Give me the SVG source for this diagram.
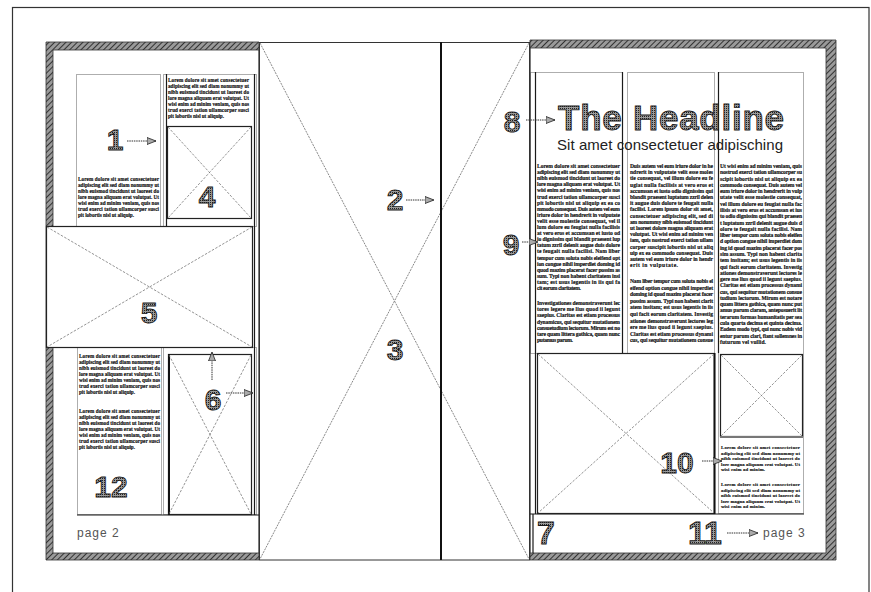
<svg xmlns="http://www.w3.org/2000/svg" width="871" height="592" viewBox="0 0 871 592">
<defs>
<style>
.bt{font-family:"Liberation Serif",serif;font-weight:bold;font-size:5.6px;fill:#111;stroke:#111;stroke-width:0.15}
.sm{font-family:"Liberation Serif",serif;font-weight:bold;font-size:5.2px;fill:#111;stroke:#111;stroke-width:0.15}
.xs{font-family:"Liberation Serif",serif;font-weight:bold;font-size:4.8px;fill:#111;stroke:#111;stroke-width:0.15}
.num{font-family:"Liberation Sans",Arial,sans-serif;font-weight:bold;font-size:30px;fill:url(#dots);stroke:#1a1a1a;stroke-width:0.9;text-anchor:middle}
.big{font-size:32px}
.dot{fill:none;stroke:#333;stroke-width:0.8;stroke-dasharray:1,1}
.sol{fill:none;stroke:#1a1a1a;stroke-width:1.2}
.img{fill:#fff;stroke:#222;stroke-width:1.2}
.x{stroke:#777;stroke-width:0.8;stroke-dasharray:2.5,1.5;fill:none}
.arr{stroke:#333;stroke-width:1;stroke-dasharray:1.5,0.8;marker-end:url(#ah);fill:none}
.pg{font-family:"Liberation Sans",Arial,sans-serif;font-size:12px;fill:#555;letter-spacing:1px}
.band{fill:url(#hatch);fill-rule:evenodd;stroke:#333;stroke-width:0.8}
</style>
<pattern id="hatch" width="4" height="4" patternUnits="userSpaceOnUse" patternTransform="rotate(45)">
<rect width="4" height="4" fill="#9a9a9a"/>
<line x1="0" y1="0" x2="0" y2="4" stroke="#333" stroke-width="2"/>
</pattern>
<pattern id="dots" width="2" height="2" patternUnits="userSpaceOnUse">
<rect width="2" height="2" fill="#9a9a9a"/>
<rect width="1" height="1" fill="#222"/>
</pattern>
<marker id="ah" markerUnits="userSpaceOnUse" markerWidth="10" markerHeight="8" refX="9" refY="4" orient="auto">
<path d="M0,0.5 L9,4 L0,7.5 Z" fill="#aaa" stroke="#222" stroke-width="0.8"/>
</marker>
<g id="b7">
<text x="0" y="0" textLength="81">Lorem dolore sit amet consectetuer</text>
<text x="0" y="6" textLength="81">adipiscing elit sed diam nonummy ut</text>
<text x="0" y="12" textLength="81">nibh euismod tincidunt ut laoreet do</text>
<text x="0" y="18" textLength="81">lore magna aliquam erat volutpat. Ut</text>
<text x="0" y="24" textLength="81">wisi enim ad minim veniam, quis nos</text>
<text x="0" y="30" textLength="81">trud exerci tation ullamcorper susci</text>
<text x="0" y="36" textLength="56">pit lobortis nisl ut aliquip.</text>
</g>
<g id="b5">
<text x="0" y="0" textLength="79">Lorem dolore sit amet consectetuer</text>
<text x="0" y="5.5" textLength="79">adipiscing elit sed diam nonummy ut</text>
<text x="0" y="11" textLength="79">nibh euismod tincidunt ut laoreet do</text>
<text x="0" y="16.5" textLength="79">lore magna aliquam erat volutpat. Ut</text>
<text x="0" y="22" textLength="44">wisi enim ad minim.</text>
</g>
</defs>

<g id="frame">
<rect x="12.5" y="7.5" width="856.5" height="640" fill="none" stroke="#333" stroke-width="1.2"/>
</g>

<g id="page2">
<rect x="46" y="42" width="213" height="518" fill="#fff"/>
<path class="band" d="M46,42 H259 V560 H46 Z M53,50 H259 V553 H53 Z"/>
<rect class="dot" x="76.5" y="74.5" width="84" height="152"/>
<rect class="dot" x="163.5" y="74.5" width="93" height="152"/>
<line class="sol" x1="166.5" y1="74" x2="166.5" y2="226"/>
<rect class="dot" x="77.5" y="347.5" width="84" height="167"/>
<rect class="dot" x="163.5" y="347.5" width="93" height="167"/>
<line class="sol" x1="254.5" y1="74" x2="254.5" y2="515" stroke-width="1.5"/>
<line class="sol" x1="77" y1="515" x2="259" y2="515"/>
<g class="sm">
<use href="#b7" x="78" y="181"/>
<use href="#b7" x="168" y="82"/>
<use href="#b7" x="79" y="358"/>
<use href="#b7" x="79" y="413"/>
</g>
<text class="pg" x="77" y="537">page 2</text>
</g>

<g id="image4">
<rect class="img" x="167.5" y="126.5" width="84" height="92"/>
<path class="x" d="M168,127 L251,218 M251,127 L168,218"/>
</g>

<g id="image5">
<rect class="img" x="46.5" y="226.5" width="206" height="121"/>
<path class="x" d="M47,227 L252,347 M252,227 L47,347"/>
</g>

<g id="image6">
<rect class="img" x="168.5" y="354.5" width="83" height="160"/>
<line x1="169" y1="354" x2="169" y2="515" stroke="#111" stroke-width="2"/>
<path class="x" d="M169,355 L251,514 M251,355 L169,514"/>
</g>

<g id="spread-image">
<rect x="259.5" y="42.5" width="270" height="517.5" fill="#fff" stroke="#333" stroke-width="1"/>
<path d="M260,43 L529,559 M529,43 L260,559" stroke="#888" stroke-width="1" stroke-dasharray="2,1" fill="none"/>
<line x1="441" y1="42" x2="441" y2="560" stroke="#111" stroke-width="2"/>
</g>

<g id="page3">
<rect x="530" y="40" width="306" height="520" fill="#fff"/>
<path class="band" d="M530,40 H836 V560 H530 Z M530,48 V553 H826 V48 Z"/>
<line class="sol" x1="533" y1="514" x2="533" y2="553"/>
<g class="bt">
<text x="537" y="168" textLength="83">Lorem dolore sit amet consectetuer</text>
<text x="537" y="174.1" textLength="83">adipiscing elit sed diam nonummy ut</text>
<text x="537" y="180.2" textLength="83">nibh euismod tincidunt ut laoreet do</text>
<text x="537" y="186.3" textLength="83">lore magna aliquam erat volutpat. Ut</text>
<text x="537" y="192.4" textLength="83">wisi enim ad minim veniam, quis nos</text>
<text x="537" y="198.5" textLength="83">trud exerci tation ullamcorper susci</text>
<text x="537" y="204.6" textLength="83">pit lobortis nisl ut aliquip ex ea co</text>
<text x="537" y="210.7" textLength="83">mmodo consequat. Duis autem vel eum</text>
<text x="537" y="216.8" textLength="83">iriure dolor in hendrerit in vulputate</text>
<text x="537" y="222.9" textLength="83">velit esse molestie consequat, vel il</text>
<text x="537" y="229" textLength="83">lum dolore eu feugiat nulla facilisis</text>
<text x="537" y="235.1" textLength="83">at vero eros et accumsan et iusto od</text>
<text x="537" y="241.2" textLength="83">io dignissim qui blandit praesent lup</text>
<text x="537" y="247.3" textLength="83">tatum zzril delenit augue duis dolore</text>
<text x="537" y="253.4" textLength="83">te feugait nulla facilisi. Nam liber</text>
<text x="537" y="259.5" textLength="83">tempor cum soluta nobis eleifend opt</text>
<text x="537" y="265.6" textLength="83">ion congue nihil imperdiet doming id</text>
<text x="537" y="271.7" textLength="83">quod mazim placerat facer possim as</text>
<text x="537" y="277.8" textLength="83">sum. Typi non habent claritatem insi</text>
<text x="537" y="283.9" textLength="83">tam; est usus legentis in iis qui fa</text>
<text x="537" y="290" textLength="44">cit eorum claritatem.</text>
<text x="537" y="305" textLength="83">Investigationes demonstraverunt lec</text>
<text x="537" y="311.2" textLength="83">tores legere me lius quod ii legunt</text>
<text x="537" y="317.4" textLength="83">saepius. Claritas est etiam processus</text>
<text x="537" y="323.6" textLength="83">dynamicus, qui sequitur mutationem</text>
<text x="537" y="329.8" textLength="83">consuetudium lectorum. Mirum est no</text>
<text x="537" y="336" textLength="83">tare quam littera gothica, quam nunc</text>
<text x="537" y="342.2" textLength="36">putamus parum.</text>

<text x="630" y="168" textLength="83">Duis autem vel eum iriure dolor in he</text>
<text x="630" y="174.2" textLength="83">ndrerit in vulputate velit esse moles</text>
<text x="630" y="180.4" textLength="83">tie consequat, vel illum dolore eu fe</text>
<text x="630" y="186.6" textLength="83">ugiat nulla facilisis at vero eros et</text>
<text x="630" y="192.8" textLength="83">accumsan et iusto odio dignissim qui</text>
<text x="630" y="199" textLength="83">blandit praesent luptatum zzril delen</text>
<text x="630" y="205.2" textLength="83">it augue duis dolore te feugait nulla</text>
<text x="630" y="211.4" textLength="83">facilisi. Lorem ipsum dolor sit amet,</text>
<text x="630" y="217.6" textLength="83">consectetuer adipiscing elit, sed di</text>
<text x="630" y="223.8" textLength="83">am nonummy nibh euismod tincidunt</text>
<text x="630" y="230" textLength="83">ut laoreet dolore magna aliquam erat</text>
<text x="630" y="236.2" textLength="83">volutpat. Ut wisi enim ad minim ven</text>
<text x="630" y="242.4" textLength="83">iam, quis nostrud exerci tation ullam</text>
<text x="630" y="248.6" textLength="83">corper suscipit lobortis nisl ut aliq</text>
<text x="630" y="254.8" textLength="83">uip ex ea commodo consequat. Duis</text>
<text x="630" y="261" textLength="83">autem vel eum iriure dolor in hendr</text>
<text x="630" y="267.2" textLength="48">erit in vulputate.</text>
<text x="630" y="283" textLength="83">Nam liber tempor cum soluta nobis el</text>
<text x="630" y="289.6" textLength="83">eifend option congue nihil imperdiet</text>
<text x="630" y="296.2" textLength="83">doming id quod mazim placerat facer</text>
<text x="630" y="302.8" textLength="83">possim assum. Typi non habent clarit</text>
<text x="630" y="309.4" textLength="83">atem insitam; est usus legentis in iis</text>
<text x="630" y="316" textLength="83">qui facit eorum claritatem. Investig</text>
<text x="630" y="322.6" textLength="83">ationes demonstraverunt lectores leg</text>
<text x="630" y="329.2" textLength="83">ere me lius quod ii legunt saepius.</text>
<text x="630" y="335.8" textLength="83">Claritas est etiam processus dynami</text>
<text x="630" y="342.4" textLength="83">cus, qui sequitur mutationem consue</text>

<text x="720" y="168" textLength="82">Ut wisi enim ad minim veniam, quis</text>
<text x="720" y="174.3" textLength="82">nostrud exerci tation ullamcorper su</text>
<text x="720" y="180.6" textLength="82">scipit lobortis nisl ut aliquip ex ea</text>
<text x="720" y="186.8" textLength="82">commodo consequat. Duis autem vel</text>
<text x="720" y="193.1" textLength="82">eum iriure dolor in hendrerit in vulp</text>
<text x="720" y="199.4" textLength="82">utate velit esse molestie consequat,</text>
<text x="720" y="205.7" textLength="82">vel illum dolore eu feugiat nulla fac</text>
<text x="720" y="212" textLength="82">ilisis at vero eros et accumsan et ius</text>
<text x="720" y="218.2" textLength="82">to odio dignissim qui blandit praesen</text>
<text x="720" y="224.5" textLength="82">t luptatum zzril delenit augue duis d</text>
<text x="720" y="230.8" textLength="82">olore te feugait nulla facilisi. Nam</text>
<text x="720" y="237.1" textLength="82">liber tempor cum soluta nobis eleifen</text>
<text x="720" y="243.4" textLength="82">d option congue nihil imperdiet dom</text>
<text x="720" y="249.6" textLength="82">ing id quod mazim placerat facer pos</text>
<text x="720" y="255.9" textLength="82">sim assum. Typi non habent clarita</text>
<text x="720" y="262.2" textLength="82">tem insitam; est usus legentis in iis</text>
<text x="720" y="268.5" textLength="82">qui facit eorum claritatem. Investig</text>
<text x="720" y="274.8" textLength="82">ationes demonstraverunt lectores le</text>
<text x="720" y="281" textLength="82">gere me lius quod ii legunt saepius.</text>
<text x="720" y="287.3" textLength="82">Claritas est etiam processus dynami</text>
<text x="720" y="293.6" textLength="82">cus, qui sequitur mutationem consue</text>
<text x="720" y="299.9" textLength="82">tudium lectorum. Mirum est notare</text>
<text x="720" y="306.2" textLength="82">quam littera gothica, quam nunc put</text>
<text x="720" y="312.4" textLength="82">amus parum claram, anteposuerit lit</text>
<text x="720" y="318.7" textLength="82">terarum formas humanitatis per sea</text>
<text x="720" y="325" textLength="82">cula quarta decima et quinta decima.</text>
<text x="720" y="331.3" textLength="82">Eodem modo typi, qui nunc nobis vid</text>
<text x="720" y="337.6" textLength="82">entur parum clari, fiant sollemnes in</text>
<text x="720" y="343.8" textLength="46">futurum vel vullid.</text>
</g>
<g class="xs">
<use href="#b5" x="721" y="449"/>
<use href="#b5" x="721" y="486"/>
</g>
<text class="pg" x="763" y="537">page 3</text>
</g>

<g id="headline">
<text class="num" x="558" y="130" textLength="226" style="text-anchor:start;font-size:35px">The Headline</text>
<text x="557" y="150" textLength="226" font-family="Liberation Sans, Arial, sans-serif" font-size="15" fill="#222">Sit amet consectetuer adipisching</text>
</g>

<g id="columns3">
<rect class="dot" x="530.5" y="72.5" width="92" height="281"/>
<rect class="dot" x="627.5" y="72.5" width="87" height="281"/>
<rect class="dot" x="718.5" y="72.5" width="85" height="441"/>
<line class="sol" x1="535.5" y1="72" x2="535.5" y2="514"/>
<line class="sol" x1="622.5" y1="72" x2="622.5" y2="353"/>
<line class="sol" x1="718.5" y1="72" x2="718.5" y2="353"/>
<line class="sol" x1="530" y1="514" x2="804" y2="514"/>
</g>

<g id="image-large">
<rect class="img" x="537.5" y="353.5" width="177" height="160"/>
<line x1="714.5" y1="353" x2="714.5" y2="514" stroke="#111" stroke-width="2"/>
<path class="x" d="M538,354 L714,513 M714,354 L538,513"/>
</g>

<g id="image-small">
<rect class="img" x="720.5" y="354.5" width="82" height="82"/>
<line x1="720" y1="437" x2="803" y2="437" stroke="#777" stroke-width="2"/>
<path class="x" d="M721,355 L802,436 M802,355 L721,436"/>
</g>

<g id="label-1"><text class="num" x="115" y="150">1</text></g>
<g id="label-2"><text class="num" x="395" y="210">2</text></g>
<g id="label-3"><text class="num" x="395" y="360">3</text></g>
<g id="label-4"><text class="num" x="207" y="207">4</text></g>
<g id="label-5"><text class="num" x="149" y="323">5</text></g>
<g id="label-6"><text class="num" x="213" y="410">6</text></g>
<g id="label-7"><text class="num big" x="546" y="544">7</text></g>
<g id="label-8"><text class="num" x="512" y="132">8</text></g>
<g id="label-9"><text class="num" x="511" y="255">9</text></g>
<g id="label-10"><text class="num" x="677" y="473">10</text></g>
<g id="label-11"><text class="num big" x="705" y="544">11</text></g>
<g id="label-12"><text class="num" x="111" y="497">12</text></g>

<g id="connectors">
<line class="arr" x1="127" y1="141" x2="156" y2="141"/>
<line class="arr" x1="406" y1="200" x2="434" y2="200"/>
<line class="arr" x1="526" y1="120" x2="555" y2="120"/>
<line class="arr" x1="522" y1="242" x2="538" y2="242"/>
<line class="arr" x1="212" y1="380" x2="212" y2="352"/>
<line class="arr" x1="226" y1="393" x2="253" y2="393"/>
<line class="arr" x1="702" y1="461" x2="722" y2="461"/>
<line class="arr" x1="727" y1="533" x2="758" y2="533"/>
</g>
</svg>
